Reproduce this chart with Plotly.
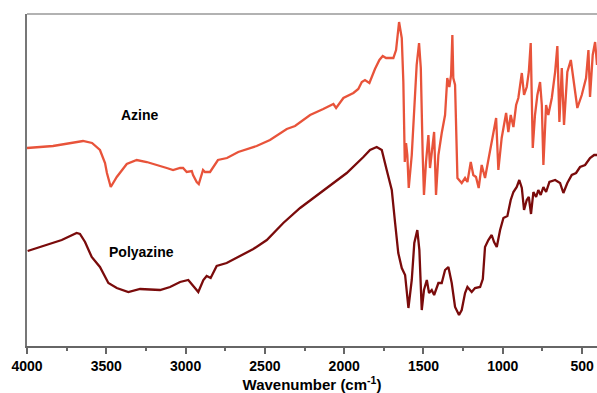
import plotly.graph_objects as go

# Azine spectrum (wavenumber, arbitrary transmittance)
azine_wn = [4000, 3836, 3647, 3590, 3540, 3508, 3496, 3472, 3434, 3371, 3308, 3245, 3119, 3079,
            3035, 3016, 2993, 2961, 2953, 2930, 2917, 2890, 2878, 2846, 2796, 2739, 2668, 2552,
            2468, 2362, 2310, 2215, 2132, 2068, 2051, 2005, 1942, 1911, 1889, 1869, 1841, 1806,
            1778, 1757, 1736, 1690, 1673, 1654, 1637, 1627, 1618, 1610, 1602, 1593, 1574, 1553,
            1543, 1528, 1517, 1505, 1497, 1484, 1469, 1459, 1446, 1433, 1421, 1406, 1385, 1364,
            1350, 1337, 1326, 1318, 1312, 1301, 1286, 1259, 1238, 1223, 1202, 1186, 1169, 1152,
            1133, 1112, 1091, 1070, 1042, 1028, 1007, 979, 965, 950, 933, 916, 902, 880, 866,
            849, 836, 824, 811, 797, 782, 765, 754, 744, 727, 713, 691, 670, 656, 643, 628, 614,
            593, 571, 551, 530, 502, 475, 460, 450, 433, 418, 406]
azine_t = [198, 200, 205, 203, 196, 183, 173, 159, 169, 182, 186, 184, 178, 176,
           178, 178, 174, 175, 171, 164, 162, 176, 174, 174, 186, 188, 194, 200,
           206, 217, 220, 231, 237, 242, 238, 248, 253, 257, 264, 266, 263, 277,
           286, 290, 288, 288, 296, 324, 308, 264, 184, 203, 191, 158, 191, 248,
           281, 303, 278, 191, 151, 184, 211, 178, 194, 214, 151, 191, 213, 231,
           268, 259, 271, 311, 268, 261, 168, 163, 168, 164, 184, 171, 169, 158,
           181, 168, 186, 204, 228, 176, 208, 233, 214, 231, 219, 241, 248, 273, 251,
           259, 274, 303, 198, 231, 251, 264, 241, 181, 241, 231, 248, 274, 300, 224, 278, 221,
           274, 286, 264, 238, 251, 268, 296, 249, 291, 304, 281]

# Polyazine spectrum
poly_wn = [3996, 3855, 3781, 3687, 3666, 3634, 3592, 3540, 3487, 3434, 3361, 3287, 3161, 3098,
           3035, 2983, 2951, 2920, 2888, 2867, 2842, 2804, 2741, 2657, 2573, 2488, 2384, 2278,
           2110, 1984, 1879, 1837, 1795, 1763, 1732, 1700, 1679, 1659, 1637, 1616, 1595, 1574,
           1558, 1539, 1526, 1511, 1497, 1479, 1465, 1448, 1433, 1406, 1385, 1364, 1343, 1322,
           1301, 1276, 1259, 1238, 1223, 1196, 1175, 1143, 1126, 1112, 1091, 1070, 1055, 1038,
           1017, 996, 971, 950, 933, 912, 896, 880, 866, 849, 836, 822, 807, 790, 776, 761,
           744, 727, 706, 670, 639, 618, 593, 565, 538, 513, 481, 450, 424, 406]
poly_t = [95, 102, 106, 113, 112, 104, 89, 79, 63, 58, 54, 57, 56, 59,
          64, 66, 60, 54, 66, 70, 68, 80, 83, 90, 97, 106, 123, 138,
          158, 173, 189, 196, 199, 196, 176, 156, 123, 93, 78, 71, 38, 66,
          103, 116, 96, 36, 56, 66, 53, 56, 51, 63, 63, 76, 79, 63,
          39, 31, 36, 53, 59, 54, 58, 59, 67, 99, 106, 111, 104, 99,
          116, 128, 130, 146, 154, 159, 166, 158, 136, 146, 149, 132, 154, 149, 156, 151,
          159, 154, 164, 166, 163, 153, 163, 171, 173, 179, 181, 188, 191, 191]

x_ticks = [4000, 3500, 3000, 2500, 2000, 1500, 1000, 500]
series_names = ["Azine", "Polyazine"]

fig = go.Figure()
fig.add_trace(go.Scatter(x=azine_wn, y=azine_t, mode="lines", name=series_names[0],
                         line=dict(color="#E8533A", width=2.3)))
fig.add_trace(go.Scatter(x=poly_wn, y=poly_t, mode="lines", name=series_names[1],
                         line=dict(color="#7A0B0B", width=2.3)))

fig.add_annotation(x=3285, y=231, text="<b>Azine</b>", showarrow=False,
                   font=dict(family="Liberation Sans, Arial", size=14, color="black"))
fig.add_annotation(x=3275, y=94, text="<b>Polyazine</b>", showarrow=False,
                   font=dict(family="Liberation Sans, Arial", size=14, color="black"))

# top border line
fig.add_shape(type="line", xref="paper", yref="paper", x0=0, x1=1, y0=1, y1=1,
              line=dict(color="#999999", width=1.5))

fig.update_layout(
    width=597, height=393,
    margin=dict(l=27, r=0, t=14, b=47),
    paper_bgcolor="white", plot_bgcolor="white",
    showlegend=False,
    font=dict(family="Liberation Sans, Arial", color="black"),
    xaxis=dict(
        range=[4000, 406], tickvals=x_ticks, ticktext=[f"<b>{v}</b>" for v in x_ticks],
        showgrid=False, zeroline=False, showline=True, linecolor="#666666", linewidth=1.5,
        ticks="outside", ticklen=6, tickwidth=1.5, tickcolor="#666666",
        tickfont=dict(size=14, color="black"),
        minor=dict(dtick=250, tick0=0, ticks="outside", ticklen=3, tickwidth=1.5, tickcolor="#666666"),
        title=dict(text="<b>Wavenumber (cm<sup>-1</sup>)</b>", font=dict(size=15, color="black"), standoff=4),
    ),
    yaxis=dict(
        range=[0, 332], showticklabels=False, showgrid=False, zeroline=False,
        showline=True, linecolor="#777777", linewidth=1.5, ticks="",
    ),
)

fig.write_html("out.html")
